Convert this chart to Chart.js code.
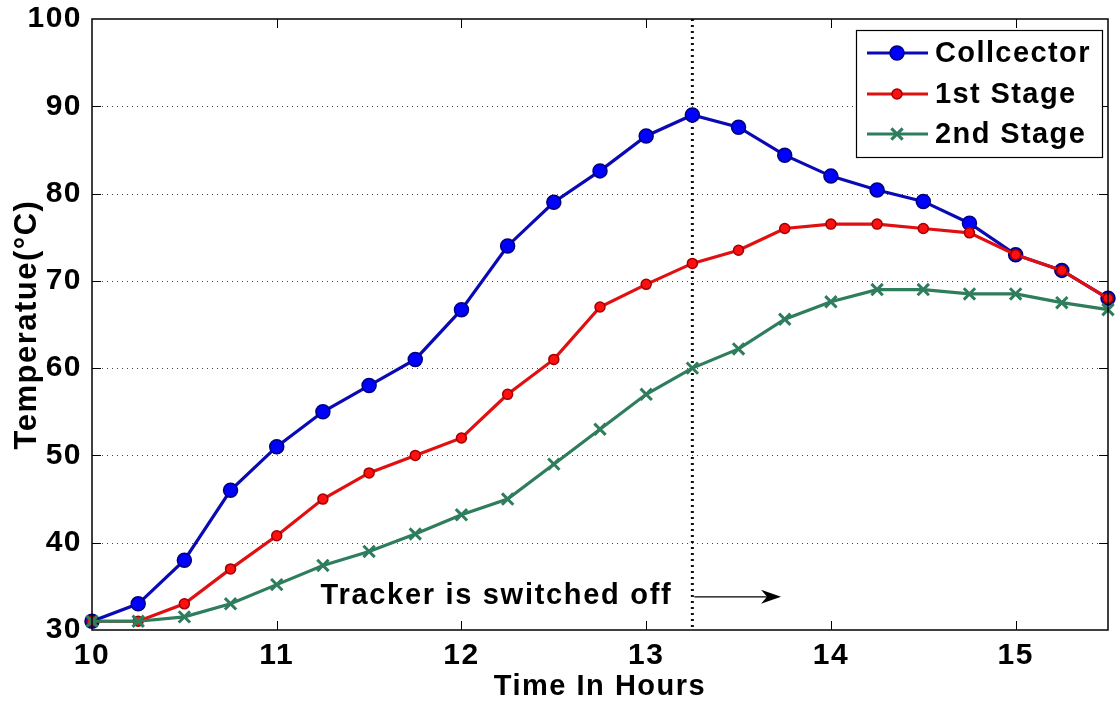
<!DOCTYPE html>
<html>
<head>
<meta charset="utf-8">
<script src="https://cdn.jsdelivr.net/npm/chart.js@4.4.0/dist/chart.umd.min.js"></script>
<style>
  html, body { margin: 0; padding: 0; background: #fff; }
  canvas { display: block; }
</style>
</head>
<body>
<canvas id="tempChart" width="1119" height="706"></canvas>
<script>
// readings every quarter hour
const hours = [10, 10.25, 10.5, 10.75, 11, 11.25, 11.5, 11.75, 12, 12.25, 12.5, 12.75,
               13, 13.25, 13.5, 13.75, 14, 14.25, 14.5, 14.75, 15, 15.25, 15.5];
const collector = [31, 33, 38, 46, 51, 55, 58, 61, 66.7, 74, 79, 82.6,
                   86.6, 89, 87.6, 84.4, 82, 80.4, 79.1, 76.6, 73, 71.2, 68];
const stage1 = [31, 31, 33, 37, 40.8, 45, 48, 50, 52, 57, 61, 67,
                69.6, 72, 73.5, 76, 76.5, 76.5, 76, 75.5, 73, 71.2, 68];
const stage2 = [31, 31, 31.5, 33, 35.2, 37.4, 39, 41, 43.2, 45, 49, 53,
                57, 60, 62.2, 65.6, 67.6, 69, 69, 68.5, 68.5, 67.5, 66.7];
const seriesNames = ["Collcector", "1st Stage", "2nd Stage"];
const xTicks = [10, 11, 12, 13, 14, 15];
const yTicks = [30, 40, 50, 60, 70, 80, 90, 100];
const switchOffHour = 13.25;
const noteText = "Tracker is switched off";

const FONT = "'Liberation Sans', Arial, sans-serif";
const styles = [
  { line: "#0a0ab4", fill: "#0000ff", edge: "#00007a", marker: "circle", r: 7 },
  { line: "#e01010", fill: "#ff1010", edge: "#a00000", marker: "circle", r: 5 },
  { line: "#2e7d5c", fill: "#2e7d5c", edge: "#2e7d5c", marker: "crossRot", r: 8 }
];

function makeDataset(i, values) {
  const s = styles[i];
  return {
    label: seriesNames[i],
    data: hours.map((h, k) => ({ x: h, y: values[k] })),
    borderColor: s.line,
    borderWidth: 3.2,
    pointStyle: s.marker,
    pointRadius: s.r,
    pointBackgroundColor: s.fill,
    pointBorderColor: s.edge,
    pointBorderWidth: s.marker === "crossRot" ? 3 : 1.5,
    tension: 0,
    clip: false,
    order: 3 - i   // later series painted on top, like the original
  };
}

function drawMarker(ctx, s, x, y) {
  ctx.save();
  if (s.marker === "circle") {
    ctx.beginPath();
    ctx.arc(x, y, s.r, 0, Math.PI * 2);
    ctx.fillStyle = s.fill;
    ctx.fill();
    ctx.lineWidth = 1.5;
    ctx.strokeStyle = s.edge;
    ctx.stroke();
  } else {
    const d = s.r * Math.SQRT1_2;
    ctx.beginPath();
    ctx.moveTo(x - d, y - d); ctx.lineTo(x + d, y + d);
    ctx.moveTo(x - d, y + d); ctx.lineTo(x + d, y - d);
    ctx.lineWidth = 3;
    ctx.strokeStyle = s.edge;
    ctx.stroke();
  }
  ctx.restore();
}

const frame = {
  id: "frame",
  beforeDraw(chart) {
    // the original lettering is a bit wider than Arial
    chart.ctx.letterSpacing = "1.5px";
  },
  beforeDatasetsDraw(chart) {
    const { ctx, chartArea: a, scales: { x, y } } = chart;
    ctx.save();
    // dotted horizontal grid
    ctx.strokeStyle = "#444";
    ctx.lineWidth = 1;
    ctx.setLineDash([1, 4]);
    yTicks.slice(1, -1).forEach(v => {
      const py = Math.round(y.getPixelForValue(v)) + 0.5;
      ctx.beginPath(); ctx.moveTo(a.left, py); ctx.lineTo(a.right, py); ctx.stroke();
    });
    // switch-off marker line
    const sx = x.getPixelForValue(switchOffHour);
    ctx.strokeStyle = "#111";
    ctx.lineWidth = 3;
    ctx.setLineDash([2, 4]);
    ctx.beginPath(); ctx.moveTo(sx, a.top); ctx.lineTo(sx, a.bottom); ctx.stroke();
    ctx.restore();
  },
  afterDatasetsDraw(chart) {
    const { ctx, chartArea: a, scales: { x, y } } = chart;
    ctx.save();
    // box + inward ticks on all sides
    ctx.strokeStyle = "#000";
    ctx.lineWidth = 1.5;
    ctx.strokeRect(a.left, a.top, a.right - a.left, a.bottom - a.top);
    ctx.lineWidth = 1;
    const tl = 9;
    ctx.beginPath();
    xTicks.slice(1).forEach(v => {
      const px = Math.round(x.getPixelForValue(v)) + 0.5;
      ctx.moveTo(px, a.bottom); ctx.lineTo(px, a.bottom - tl);
      ctx.moveTo(px, a.top); ctx.lineTo(px, a.top + tl);
    });
    yTicks.slice(1, -1).forEach(v => {
      const py = Math.round(y.getPixelForValue(v)) + 0.5;
      ctx.moveTo(a.left, py); ctx.lineTo(a.left + tl, py);
      ctx.moveTo(a.right, py); ctx.lineTo(a.right - tl, py);
    });
    ctx.stroke();

    // annotation text and arrow
    const sx = x.getPixelForValue(switchOffHour);
    ctx.fillStyle = "#000";
    ctx.font = "bold 29px " + FONT;
    ctx.letterSpacing = "1.7px";
    ctx.textAlign = "right";
    ctx.textBaseline = "alphabetic";
    ctx.fillText(noteText, sx - 20, y.getPixelForValue(33));
    ctx.letterSpacing = "0px";
    const ay = y.getPixelForValue(33.8);
    const ax2 = x.getPixelForValue(13.73);
    ctx.lineWidth = 1.2;
    ctx.beginPath(); ctx.moveTo(sx + 2, ay); ctx.lineTo(ax2 - 8, ay); ctx.stroke();
    ctx.beginPath();
    ctx.moveTo(ax2, ay);
    ctx.lineTo(ax2 - 20, ay - 7);
    ctx.lineTo(ax2 - 14, ay);
    ctx.lineTo(ax2 - 20, ay + 7);
    ctx.closePath();
    ctx.fill();

    // legend
    const lx = 856, ly = 30, lw = 246, lh = 127;
    ctx.fillStyle = "#fff";
    ctx.fillRect(lx, ly, lw, lh);
    ctx.strokeStyle = "#000";
    ctx.lineWidth = 1.2;
    ctx.strokeRect(lx + 0.5, ly + 0.5, lw, lh);
    const rows = [53, 94, 134];
    ctx.font = "bold 29px " + FONT;
    ctx.letterSpacing = "1.4px";
    ctx.textAlign = "left";
    ctx.textBaseline = "middle";
    seriesNames.forEach((name, i) => {
      const s = styles[i];
      const ry = rows[i];
      ctx.strokeStyle = s.line;
      ctx.lineWidth = 3.2;
      ctx.beginPath(); ctx.moveTo(867, ry); ctx.lineTo(928, ry); ctx.stroke();
      drawMarker(ctx, s, 897, ry);
      ctx.fillStyle = "#000";
      ctx.fillText(name, 935, ry + 1);
    });
    ctx.restore();
  }
};

const tickFont = { family: FONT, size: 30, weight: "bold" };

new Chart(document.getElementById("tempChart"), {
  type: "line",
  data: {
    datasets: [makeDataset(0, collector), makeDataset(1, stage1), makeDataset(2, stage2)]
  },
  options: {
    responsive: false,
    animation: false,
    layout: { padding: { top: 19, right: 9, left: 0, bottom: 0 } },
    plugins: { legend: { display: false }, tooltip: { enabled: false } },
    scales: {
      x: {
        type: "linear",
        min: 10,
        max: 15.5,
        afterBuildTicks: s => { s.ticks = xTicks.map(v => ({ value: v })); },
        afterFit: s => { s.height = 76; s.paddingLeft = 0; s.paddingRight = 0; },
        grid: { display: false, drawTicks: false },
        border: { display: false },
        ticks: { font: tickFont, color: "#000", padding: 8, maxRotation: 0, autoSkip: false },
        title: {
          display: true, text: "Time In Hours", color: "#000",
          font: { family: FONT, size: 29, weight: "bold" }, padding: { top: 0, bottom: 2 }
        }
      },
      y: {
        type: "linear",
        min: 30,
        max: 100,
        afterBuildTicks: s => { s.ticks = yTicks.map(v => ({ value: v })); },
        afterFit: s => { s.width = 92; s.paddingTop = 0; s.paddingBottom = 0; },
        grid: { display: false, drawTicks: false },
        border: { display: false },
        ticks: { font: tickFont, color: "#000", padding: 10, autoSkip: false },
        title: {
          display: true, text: "Temperatue(°C)", color: "#000",
          font: { family: FONT, size: 31, weight: "bold" }, padding: { top: 9, bottom: 0 }
        }
      }
    }
  },
  plugins: [frame]
});
</script>
</body>
</html>
